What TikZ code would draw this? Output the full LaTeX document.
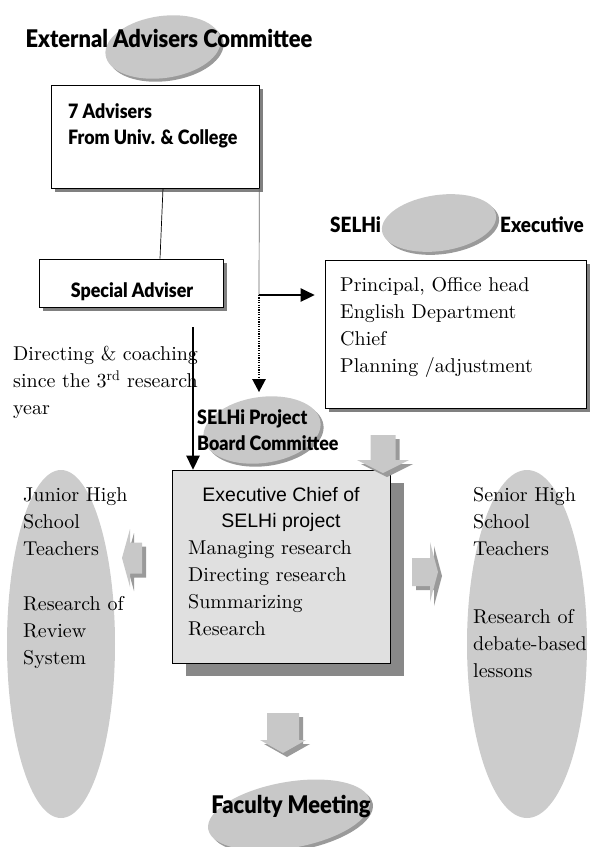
\documentclass[tikz,border=0pt]{standalone}
\usepackage{fontspec}
\usetikzlibrary{shapes.geometric,shadows,arrows.meta}
\newfontfamily\headfont{Lato Black}[FakeStretch=0.9]
\newfontfamily\gothic{Liberation Sans}
\newfontfamily\bookface{lmroman10-regular.otf}
\definecolor{bubgray}{HTML}{C8C8C8}
\definecolor{bubshade}{HTML}{9A9A9A}
\definecolor{teamgray}{HTML}{CCCCCC}
\definecolor{chiefgray}{HTML}{E0E0E0}
\definecolor{chiefshade}{HTML}{888888}
\definecolor{cardshade}{HTML}{808080}
\def\fatarrow[#1](#2)(#3:#4:#5:#6){%
  \begin{scope}[shift={(#2)}]
    \fill[bubshade, xshift=4pt, yshift=-4pt, rotate=#1] (0pt,0pt) -- ({-#6pt},{#5pt/2}) -- ({-#6pt},{#4pt/2}) -- ({-#3pt},{#4pt/2}) -- ({-#3pt},{-#4pt/2}) -- ({-#6pt},{-#4pt/2}) -- ({-#6pt},{-#5pt/2}) -- cycle;
    \fill[bubgray, rotate=#1] (0pt,0pt) -- ({-#6pt},{#5pt/2}) -- ({-#6pt},{#4pt/2}) -- ({-#3pt},{#4pt/2}) -- ({-#3pt},{-#4pt/2}) -- ({-#6pt},{-#4pt/2}) -- ({-#6pt},{-#5pt/2}) -- cycle;
  \end{scope}}
\tikzset{
  bub/.style={ellipse, fill=bubgray, inner sep=0, drop shadow={shadow xshift=3pt, shadow yshift=-3pt, fill=bubshade, opacity=1}},
  team/.style={ellipse, fill=teamgray, inner sep=0},
  card/.style={draw=black, fill=white, line width=0.6pt, inner sep=0, drop shadow={shadow xshift=4pt, shadow yshift=-4pt, fill=cardshade, opacity=1}},
  chiefbox/.style={draw=black, fill=chiefgray, line width=0.6pt, inner sep=0, drop shadow={shadow xshift=14pt, shadow yshift=-13pt, fill=chiefshade, opacity=1}},
  bighead/.style={font=\headfont\fontsize{24.3}{27}\selectfont, inner sep=0},
  midhead/.style={font=\headfont\fontsize{21}{27}\selectfont, inner sep=0},
  smallhead/.style={font=\headfont\fontsize{19.8}{26.5}\selectfont, inner sep=0, align=left},
  serif/.style={font=\bookface\fontsize{20}{27}\selectfont, inner sep=0, align=left},
  wire/.style={line width=0.7pt},
  boldarrow/.style={line width=2.6pt, -{Triangle[width=13pt,length=14pt]}},
  dotarrow/.style={line width=2.4pt, dash pattern=on 1.2pt off 1.2pt, -{Triangle[width=13pt,length=13pt]}}
}
\begin{document}
\begin{tikzpicture}[x=10pt, y=-10pt]
		%%%%% START %%%%%
		\useasboundingbox (0,0) rectangle (59,84.7);
		
		\node[team, minimum width=108pt, minimum height=348pt] (juniorbub) at (6.1,64.4) {};
		\node[team, minimum width=120pt, minimum height=348pt] (seniorbub) at (52.7,64.4) {};
		
		\node[bub, minimum width=116pt, minimum height=62pt, rotate=8] (extbub) at (16.3,4.7) {};
		\node[bub, minimum width=115pt, minimum height=56pt, rotate=8] (selhibub) at (43.9,22.3) {};
		\node[bub, minimum width=118pt, minimum height=66pt, rotate=8] (boardbub) at (26.2,43.0) {};
		\node[bub, minimum width=164pt, minimum height=66pt, rotate=10] (facbub) at (28.9,81.5) {};
		
		\node[card, minimum width=208pt, minimum height=103pt] (advisers) at (15.5,13.65) {};
		\node[card, minimum width=184pt, minimum height=48pt] (special) at (13.1,28.3) {};
		\node[card, minimum width=261pt, minimum height=148pt] (exec) at (45.55,33.4) {};
		\node[chiefbox, minimum width=218pt, minimum height=193pt] (chief) at (28.1,56.65) {};
		
		\node[bighead, anchor=base] (exttitle) at (16.9,4.7) {External Advisers Committee};
		\node[smallhead, anchor=north west] (advtext) at (6.8,10.3) {7 Advisers\\From Univ. \& College};
		\node[smallhead, anchor=base] (spectext) at (13.2,29.7) {Special Adviser};
		\node[midhead, anchor=base west] (selhitext) at (33.0,23.2) {SELHi};
		\node[midhead, anchor=base west] (exectitle) at (50.0,23.2) {Executive};
		\node[serif, anchor=north west] (exectext) at (34.0,27.7) {Principal, Office head\\English Department\\Chief\\Planning /adjustment};
		\node[serif, anchor=north west] (dirtext) at (1.3,34.6) {Directing \& coaching\\since the 3\textsuperscript{rd} research\\year};
		\node[smallhead, anchor=north west] (boardtext) at (19.7,40.9) {SELHi Project\\Board Committee};
		\node[font=\gothic\fontsize{19.5}{26}\selectfont, inner sep=0, align=center, anchor=north] (chieftitle) at (28.1,48.7) {Executive Chief of\\SELHi project};
		\node[serif, anchor=north west] (chieftext) at (18.8,54.0) {Managing research\\Directing research\\Summarizing\\Research};
		\node[serif, anchor=north west] (juniortext) at (2.3,48.7) {Junior High\\School\\Teachers\\[28pt]Research of\\Review\\System};
		\node[serif, anchor=north west] (seniortext) at (47.3,48.7) {Senior High\\School\\Teachers\\[41pt]Research of\\debate-based\\lessons};
		\node[bighead, anchor=base] (factitle) at (29.1,81.3) {Faculty Meeting};
		
		\coordinate (split) at (25.9,29.5);
		\coordinate (coach) at (19.3,32.7);
		\draw[wire, black!60] (advisers.south east) -- (split);
		\draw[wire] ([xshift=8pt]advisers.south) -- ([xshift=29pt]special.north);
		\draw[boldarrow] (split) -- ([xshift=-10pt]split -| exec.west);
		\draw[dotarrow, shorten >=5pt] (split) -- (split |- boardbub.north);
		\draw[boldarrow] (coach) -- (coach |- chief.north);
		
		\fatarrow[-90](38.3,47.3)(38:25:52:13);
		\fatarrow[-90](28.3,75.3)(40:32:46:13);
		\fatarrow[180](12.2,55.8)(20:31:58:8);
		\fatarrow[0](43.8,57.2)(26:28:60:8);
		
		%%%%% END %%%%%
\end{tikzpicture}
\end{document}
